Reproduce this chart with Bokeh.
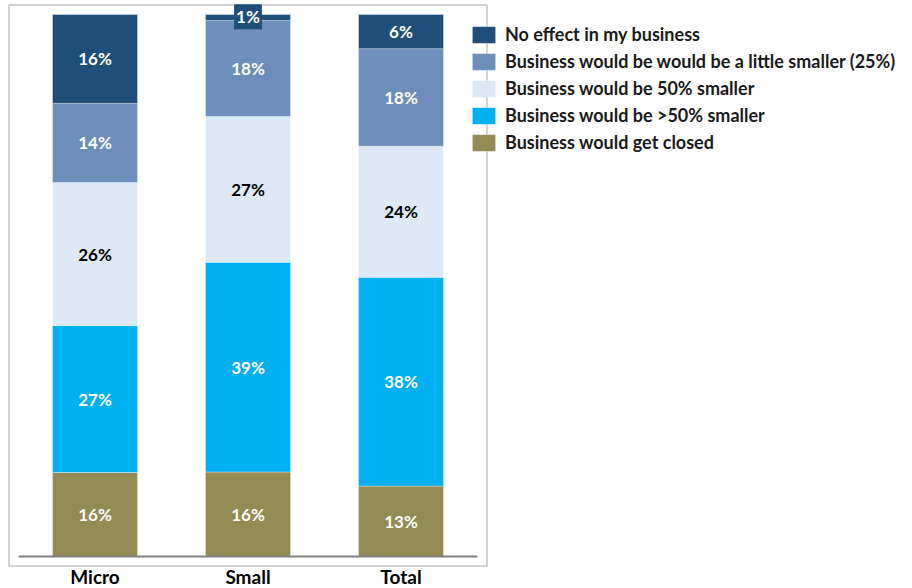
from bokeh.plotting import figure
from bokeh.models import ColumnDataSource, Range1d, Legend, LegendItem, Label
from bokeh.core.properties import value
from bokeh.embed import file_html
from bokeh.resources import INLINE

# ---------------- data ----------------
categories = ["Micro", "Small", "Total"]
series_names = [
    "No effect in my business",
    "Business would be would be a little smaller (25%)",
    "Business would be 50% smaller",
    "Business would be >50% smaller",
    "Business would get closed",
]
no_effect = [16.4, 1.1, 6.3]
little_smaller = [14.6, 17.7, 18.0]
half_smaller = [26.4, 26.9, 24.2]
more_than_half = [27.1, 38.7, 38.5]
closed = [15.5, 15.6, 13.0]

no_effect_lbl = ["16%", "1%", "6%"]
little_smaller_lbl = ["14%", "18%", "18%"]
half_smaller_lbl = ["26%", "27%", "24%"]
more_than_half_lbl = ["27%", "39%", "38%"]
closed_lbl = ["16%", "16%", "13%"]

# ---------------- styles ----------------
colors = {
    "closed": "#948A54",
    "more": "#00B0F0",
    "half": "#DDE9F6",
    "little": "#6D8DBB",
    "none": "#1F4E79",
}
FONT = "Lato"

W, H = 912, 588
Y0_PX, Y100_PX = 556.0, 14.0
X0_PX, DX_PX = 94.5, 153.0


def ydata(py):
    return (Y0_PX - py) / ((Y0_PX - Y100_PX) / 100.0)


def xdata(px):
    return (px - X0_PX) / DX_PX


p = figure(width=W, height=H, min_border=0, toolbar_location=None,
           output_backend="svg", x_axis_type=None, y_axis_type=None,
           x_range=Range1d(xdata(0), xdata(W)),
           y_range=Range1d(ydata(H), ydata(0)))
p.grid.visible = False
p.outline_line_color = None
p.background_fill_color = "white"
p.border_fill_color = "white"

# frame border
p.quad(left=[xdata(8.5)], right=[xdata(486.5)], bottom=[ydata(565.5)], top=[ydata(4.5)],
       fill_alpha=0, line_color="#C4C4C4", line_width=1.5)

xs = list(range(len(categories)))
keys = ["closed", "more", "half", "little", "none"]
vals = {"closed": closed, "more": more_than_half, "half": half_smaller,
        "little": little_smaller, "none": no_effect}
lbls = {"closed": closed_lbl, "more": more_than_half_lbl, "half": half_smaller_lbl,
        "little": little_smaller_lbl, "none": no_effect_lbl}
names = {"none": series_names[0], "little": series_names[1], "half": series_names[2],
         "more": series_names[3], "closed": series_names[4]}

src = ColumnDataSource(dict(x=xs, **{k: vals[k] for k in keys}))
renderers = p.vbar_stack(keys, x="x", width=85 / DX_PX, source=src,
                         color=[colors[k] for k in keys],
                         line_color="white", line_alpha=0.35, line_width=1)

# segment labels
bottoms = [0.0] * len(xs)
lx, ly, lt, lc = [], [], [], []
for k in keys:
    for i in xs:
        v = vals[k][i]
        b = bottoms[i]
        if v < 3:
            lab = Label(x=i, y=b + v - 0.4, text=lbls[k][i], text_align="center",
                        text_baseline="middle", text_color="white",
                        text_font=FONT, text_font_style="bold", text_font_size="17px",
                        background_fill_color=colors[k], padding=2)
            p.add_layout(lab)
        else:
            lx.append(i)
            ly.append(b + v / 2.0)
            lt.append(lbls[k][i])
            lc.append("black" if k == "half" else "white")
        bottoms[i] = b + v

p.text(x=lx, y=ly, text=lt, text_color=lc, text_align="center", text_baseline="middle",
       text_font=value(FONT), text_font_style="bold", text_font_size="17px")

# axis line
p.segment(x0=[xdata(18)], x1=[xdata(477)], y0=[0], y1=[0], line_color="#808080", line_width=2)

# category labels
p.text(x=xs, y=[ydata(576)] * len(xs), text=categories, text_color="black",
       text_align="center", text_baseline="middle",
       text_font=value(FONT), text_font_style="bold", text_font_size="19px")

# legend
rmap = dict(zip(keys, renderers))
items = [LegendItem(label=names[k], renderers=[rmap[k]]) for k in ["none", "little", "half", "more", "closed"]]
legend = Legend(items=items, location=(469, H - 153), padding=0, margin=0,
                glyph_width=29, glyph_height=21, label_height=21, spacing=5,
                label_standoff=7, border_line_alpha=0, background_fill_alpha=0,
                label_text_font=FONT, label_text_font_style="bold",
                label_text_font_size="18px", label_text_color="#1a1a1a")
p.add_layout(legend)

open("out.html", "w").write(file_html(p, INLINE))
